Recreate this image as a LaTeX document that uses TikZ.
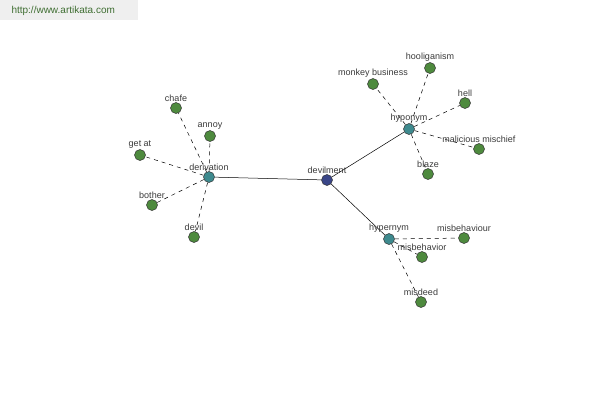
\documentclass[tikz,border=0pt]{standalone}
\usepackage{fontspec}
\setmainfont{Liberation Sans}
\usetikzlibrary{backgrounds}
\definecolor{akleaf}{HTML}{4E8A3E}
\definecolor{akhub}{HTML}{3E8A8E}
\definecolor{akroot}{HTML}{3A4688}
\definecolor{aktext}{HTML}{3A3A3A}
\definecolor{akbanner}{HTML}{EFEFEF}
\definecolor{akurl}{HTML}{3F6E32}

\begin{document}
\begin{tikzpicture}[
  x=1pt, y=-1pt,
  every node/.style={font=\fontsize{9}{10}\selectfont, text=aktext},
  word/.style={circle, draw=black!80, line width=0.5pt, minimum size=11pt, inner sep=0pt,
    label={[name=#1-l, inner sep=0.5pt]above:#1}},
  leaf/.style={word=#1, fill=akleaf},
  hub/.style={word=#1, fill=akhub},
  root/.style={word=#1, fill=akroot},
  rel/.style={line width=0.5pt, black},
  syn/.style={rel, dash pattern=on 4pt off 4pt}
]
\useasboundingbox (0,0) rectangle (600,400);
\fill[akbanner] (0,0) rectangle (138,20);
\node[anchor=west, text=akurl, font=\fontsize{10}{11}\selectfont] (url) at (8,11) {http://www.artikata.com};

% centre and relation hubs
\node[root=devilment] (devilment) at (327,180) {};
\node[hub=derivation] (derivation) at (209,177) {};
\node[hub=hyponym] (hyponym) at (409,129) {};
\node[hub=hypernym] (hypernym) at (389,239) {};

% derivation
\node[leaf=chafe] (chafe) at (176,108) {};
\node[leaf=annoy] (annoy) at (210,136) {};
\node[leaf=get at] (getat) at (140,155) {};
\node[leaf=bother] (bother) at (152,205) {};
\node[leaf=devil] (devil) at (194,237) {};

% hyponym
\node[leaf=monkey business] (monkey) at (373,84) {};
\node[leaf=hooliganism] (hooliganism) at (430,68) {};
\node[leaf=hell] (hell) at (465,103) {};
\node[leaf=malicious mischief] (malicious) at (479,149) {};
\node[leaf=blaze] (blaze) at (428,174) {};

% hypernym
\node[leaf=misbehaviour] (misbehaviour) at (464,238) {};
\node[leaf=misbehavior] (misbehavior) at (422,257) {};
\node[leaf=misdeed] (misdeed) at (421,302) {};

\begin{scope}[on background layer]
  \draw[rel] (devilment) -- (derivation);
  \draw[rel] (devilment) -- (hyponym);
  \draw[rel] (devilment) -- (hypernym);
  \foreach \w in {chafe, annoy, getat, bother, devil}
    \draw[syn] (derivation) -- (\w);
  \foreach \w in {monkey, hooliganism, hell, malicious, blaze}
    \draw[syn] (hyponym) -- (\w);
  \foreach \w in {misbehaviour, misbehavior, misdeed}
    \draw[syn] (hypernym) -- (\w);
\end{scope}
\end{tikzpicture}
\end{document}
